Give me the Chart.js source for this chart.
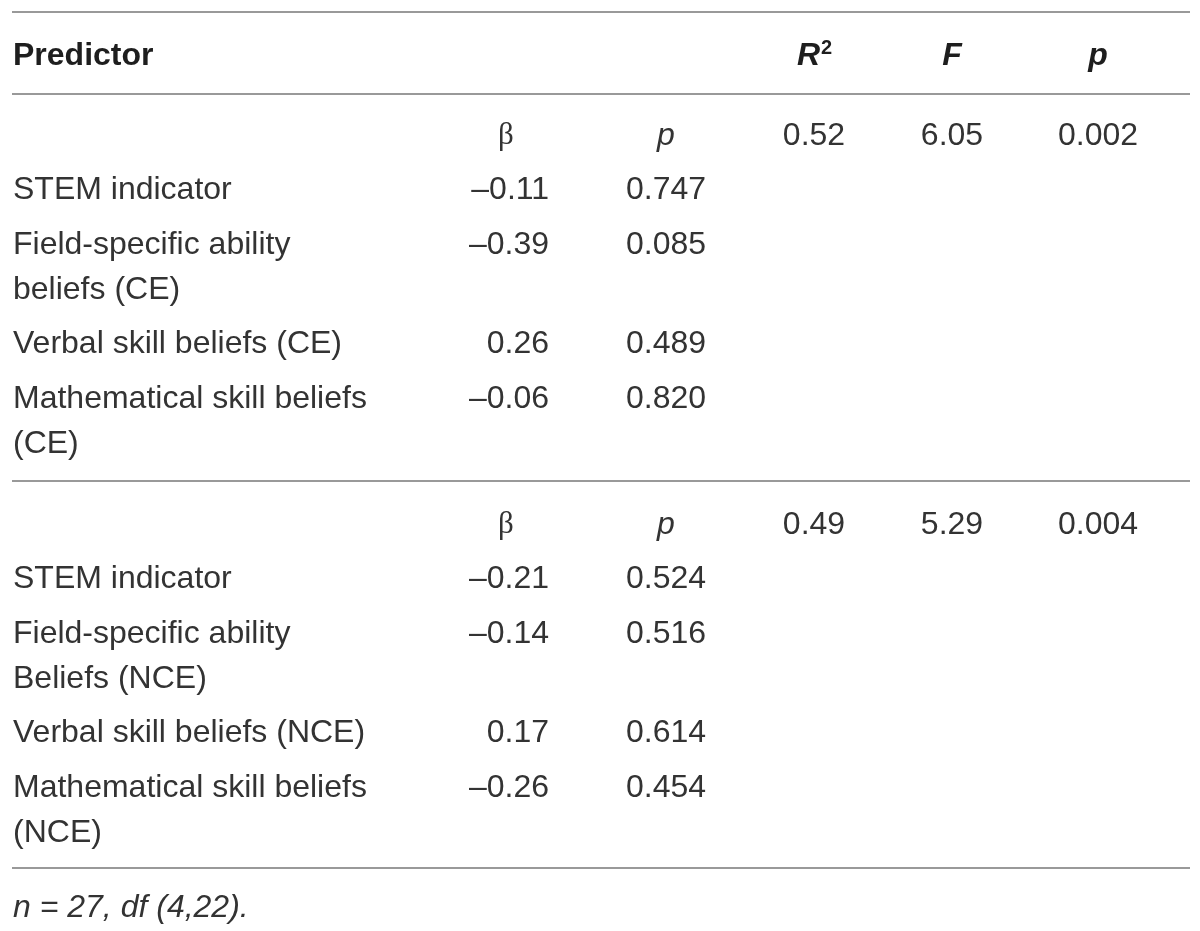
<!DOCTYPE html>
<html>
<head>
<meta charset="utf-8">
<script src="https://cdn.jsdelivr.net/npm/chart.js@4.4.1/dist/chart.umd.min.js"></script>
<style>
  html, body { margin: 0; padding: 0; background: #fff; }
  canvas { display: block; }
</style>
</head>
<body>
<canvas id="tableChart" width="1200" height="931"></canvas>
<script>
// table content
const predictorsCE = [['STEM indicator'], ['Field-specific ability', 'beliefs (CE)'], ['Verbal skill beliefs (CE)'], ['Mathematical skill beliefs', '(CE)']];
const betaCE = [-0.11, -0.39, 0.26, -0.06];
const pCE = [0.747, 0.085, 0.489, 0.820];

const predictorsNCE = [['STEM indicator'], ['Field-specific ability', 'Beliefs (NCE)'], ['Verbal skill beliefs (NCE)'], ['Mathematical skill beliefs', '(NCE)']];
const betaNCE = [-0.21, -0.14, 0.17, -0.26];
const pNCE = [0.524, 0.516, 0.614, 0.454];

const modelR2 = [0.52, 0.49];
const modelF = [6.05, 5.29];
const modelP = [0.002, 0.004];

const footnote = 'n = 27, df (4,22).';

// layout (in scale units, x 0..1200, y 0..931)
const colLabel = 13, colBeta = 549, colBetaHead = 506, colP = 666, colR2 = 814, colF = 952, colModelP = 1098;
const ruleY = [12, 94, 481, 868];
const headY = 56, blockStart = [136, 525], rowStep = 54.5, wrapStep = 45, footY = 908;

const txt = '#333333';
const family = '"Liberation Sans", Arial, sans-serif';
const body = '32px ' + family;
const bodyIt = 'italic 32px ' + family;
const head = 'bold 32px ' + family;
const headIt = 'italic bold 32px ' + family;

const fmt = (v, d) => (v < 0 ? '\u2013' : '') + Math.abs(v).toFixed(d);

const tablePlugin = {
  id: 'tablePlugin',
  afterDraw(chart) {
    const ctx = chart.ctx;
    const xs = chart.scales.x, ys = chart.scales.y;
    const X = v => xs.getPixelForValue(v);
    const Y = v => ys.getPixelForValue(v);

    ctx.save();
    // rules
    ctx.strokeStyle = '#999999';
    ctx.lineWidth = 2;
    ruleY.forEach(r => {
      ctx.beginPath();
      ctx.moveTo(X(12), Y(r));
      ctx.lineTo(X(1190), Y(r));
      ctx.stroke();
    });

    ctx.fillStyle = '#1e1e1e';
    ctx.textBaseline = 'middle';

    // header
    ctx.font = head;
    ctx.textAlign = 'left';
    ctx.fillText('Predictor', X(colLabel), Y(headY));
    ctx.font = headIt;
    ctx.textAlign = 'center';
    ctx.fillText('F', X(colF), Y(headY));
    ctx.fillText('p', X(colModelP), Y(headY));
    // R squared
    const rw = ctx.measureText('R').width;
    ctx.font = 'bold 20px ' + family;
    const sw = ctx.measureText('2').width;
    const rx = X(colR2) - (rw + sw) / 2;
    ctx.textAlign = 'left';
    ctx.fillText('2', rx + rw + 1, Y(headY) - 8);
    ctx.font = headIt;
    ctx.fillText('R', rx, Y(headY));

    // blocks
    const blocks = [
      [predictorsCE, betaCE, pCE],
      [predictorsNCE, betaNCE, pNCE]
    ];
    ctx.fillStyle = txt;
    blocks.forEach((b, bi) => {
      const y0 = blockStart[bi];
      ctx.textAlign = 'center';
      ctx.font = '31px "Liberation Serif", "DejaVu Serif", serif';
      ctx.fillText('\u03b2', X(colBetaHead), Y(y0));
      ctx.font = bodyIt;
      ctx.fillText('p', X(colP), Y(y0));
      ctx.font = body;
      ctx.fillText(modelR2[bi].toFixed(2), X(colR2), Y(y0));
      ctx.fillText(modelF[bi].toFixed(2), X(colF), Y(y0));
      ctx.fillText(modelP[bi].toFixed(3), X(colModelP), Y(y0));

      let y = y0;
      b[0].forEach((lines, i) => {
        y += i === 0 ? rowStep : rowStep + (b[0][i - 1].length - 1) * wrapStep;
        ctx.textAlign = 'left';
        lines.forEach((ln, li) => ctx.fillText(ln, X(colLabel), Y(y + li * wrapStep)));
        ctx.textAlign = 'right';
        ctx.fillText(fmt(b[1][i], 2), X(colBeta), Y(y));
        ctx.textAlign = 'center';
        ctx.fillText(b[2][i].toFixed(3), X(colP), Y(y));
      });
    });

    // footnote
    ctx.font = bodyIt;
    ctx.textAlign = 'left';
    ctx.fillText(footnote, X(colLabel), Y(footY));
    ctx.restore();
  }
};

new Chart(document.getElementById('tableChart').getContext('2d'), {
  type: 'scatter',
  data: { datasets: [{ data: [], pointRadius: 0 }] },
  options: {
    responsive: false,
    animation: false,
    events: [],
    layout: { padding: 0 },
    plugins: { legend: { display: false }, tooltip: { enabled: false } },
    scales: {
      x: { type: 'linear', min: 0, max: 1200, display: false },
      y: { type: 'linear', min: 0, max: 931, reverse: true, display: false }
    }
  },
  plugins: [tablePlugin]
});
</script>
</body>
</html>
